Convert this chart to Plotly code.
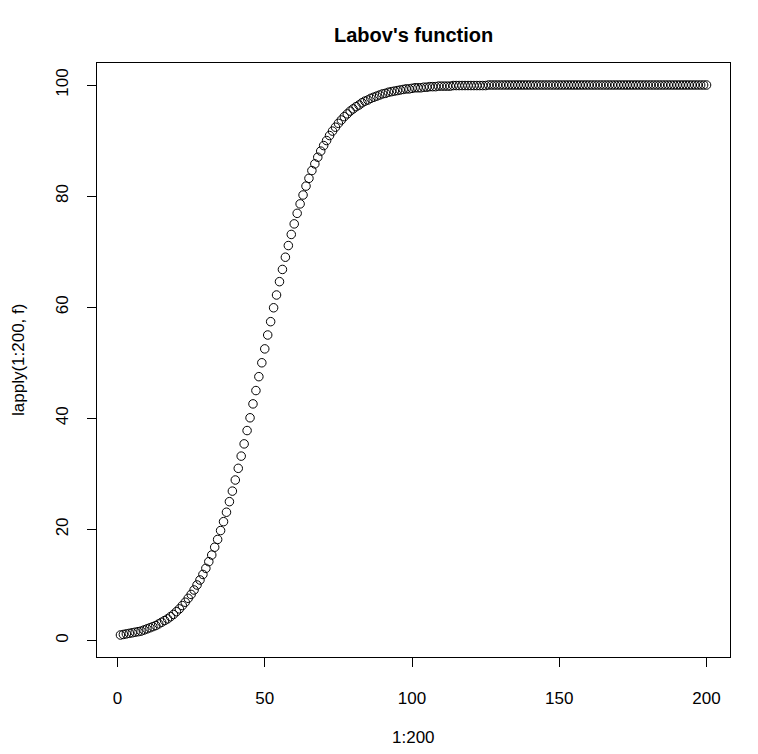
import plotly.graph_objects as go

# x values 1..200 (the R expression 1:200)
x_vals = list(range(1, 201))

# y values (lapply(1:200, f))
y_vals = [
    1.0, 1.1, 1.2, 1.3, 1.4, 1.5, 1.6, 1.7, 1.9, 2.1,
    2.3, 2.5, 2.7, 3.0, 3.3, 3.6, 3.9, 4.3, 4.7, 5.2,
    5.7, 6.3, 6.9, 7.6, 8.3, 9.1, 10.0, 10.9, 11.9, 13.0,
    14.2, 15.4, 16.8, 18.2, 19.8, 21.4, 23.1, 25.0, 26.9, 28.9,
    31.0, 33.2, 35.4, 37.8, 40.1, 42.6, 45.0, 47.5, 50.0, 52.5,
    55.0, 57.4, 59.9, 62.2, 64.6, 66.8, 69.0, 71.1, 73.1, 75.0,
    76.9, 78.6, 80.2, 81.8, 83.2, 84.6, 85.8, 87.0, 88.1, 89.1,
    90.0, 90.9, 91.7, 92.4, 93.1, 93.7, 94.3, 94.8, 95.3, 95.7,
    96.1, 96.4, 96.8, 97.1, 97.3, 97.6, 97.8, 98.0, 98.2, 98.4,
    98.5, 98.7, 98.8, 98.9, 99.0, 99.1, 99.2, 99.3, 99.3, 99.4,
    99.5, 99.5, 99.5, 99.6, 99.6, 99.7, 99.7, 99.7, 99.8, 99.8,
    99.8, 99.8, 99.8, 99.9, 99.9, 99.9, 99.9, 99.9, 99.9, 99.9,
    99.9, 99.9, 99.9, 99.9, 99.9, 100.0, 100.0, 100.0, 100.0, 100.0,
    100.0, 100.0, 100.0, 100.0, 100.0, 100.0, 100.0, 100.0, 100.0, 100.0,
    100.0, 100.0, 100.0, 100.0, 100.0, 100.0, 100.0, 100.0, 100.0, 100.0,
    100.0, 100.0, 100.0, 100.0, 100.0, 100.0, 100.0, 100.0, 100.0, 100.0,
    100.0, 100.0, 100.0, 100.0, 100.0, 100.0, 100.0, 100.0, 100.0, 100.0,
    100.0, 100.0, 100.0, 100.0, 100.0, 100.0, 100.0, 100.0, 100.0, 100.0,
    100.0, 100.0, 100.0, 100.0, 100.0, 100.0, 100.0, 100.0, 100.0, 100.0,
    100.0, 100.0, 100.0, 100.0, 100.0, 100.0, 100.0, 100.0, 100.0, 100.0,
]

x_ticks = [0, 50, 100, 150, 200]
y_ticks = [0, 20, 40, 60, 80, 100]

title_text = "Labov's function"
x_label = "1:200"
y_label = "lapply(1:200, f)"

FONT = "Liberation Sans, Arial, Helvetica, sans-serif"

W, H = 758, 754
L, R, T, B = 97, 28, 63, 97
pw, ph = W - L - R, H - T - B

def r_range(v):
    lo, hi = min(v), max(v)
    ext = 0.04 * (hi - lo)
    return [lo - ext, hi + ext]

def px2paper(px, py):
    return (px - L) / pw, (H - B - py) / ph

fig = go.Figure()
fig.add_trace(go.Scatter(
    x=x_vals, y=y_vals, mode="markers",
    marker=dict(symbol="circle-open", size=8.5, color="black",
                line=dict(width=1, color="black")),
    showlegend=False, hoverinfo="x+y", cliponaxis=False,
))

axis_common = dict(
    showgrid=False, zeroline=False, showline=True, mirror=True,
    linecolor="black", linewidth=1, ticks="outside", ticklen=9,
    tickcolor="black", tickwidth=1,
    tickfont=dict(family=FONT, size=17, color="black"),
)

fig.update_xaxes(range=r_range(x_vals), tickvals=x_ticks,
                 ticktext=[str(t) for t in x_ticks],
                 ticklabelstandoff=17, **axis_common)
fig.update_yaxes(range=r_range(y_vals), tickvals=y_ticks,
                 ticktext=[str(t) for t in y_ticks], tickangle=-90,
                 ticklabelstandoff=12, **axis_common)

tx, ty = px2paper(L + pw / 2, 35)
xx, xy = px2paper(L + pw / 2, 738)
yx, yy = px2paper(18, 360)

fig.update_layout(
    width=W, height=H,
    margin=dict(l=L, r=R, t=T, b=B, pad=0),
    plot_bgcolor="white", paper_bgcolor="white",
    annotations=[
        dict(text="<b>" + title_text + "</b>", x=tx, y=ty, xref="paper", yref="paper",
             showarrow=False, xanchor="center", yanchor="middle",
             font=dict(family=FONT, size=20, color="black")),
        dict(text=x_label, x=xx, y=xy, xref="paper", yref="paper",
             showarrow=False, xanchor="center", yanchor="middle",
             font=dict(family=FONT, size=17, color="black")),
        dict(text=y_label, x=yx, y=yy, xref="paper", yref="paper",
             showarrow=False, xanchor="center", yanchor="middle", textangle=-90,
             font=dict(family=FONT, size=17, color="black")),
    ],
)

fig.write_html("out.html")
